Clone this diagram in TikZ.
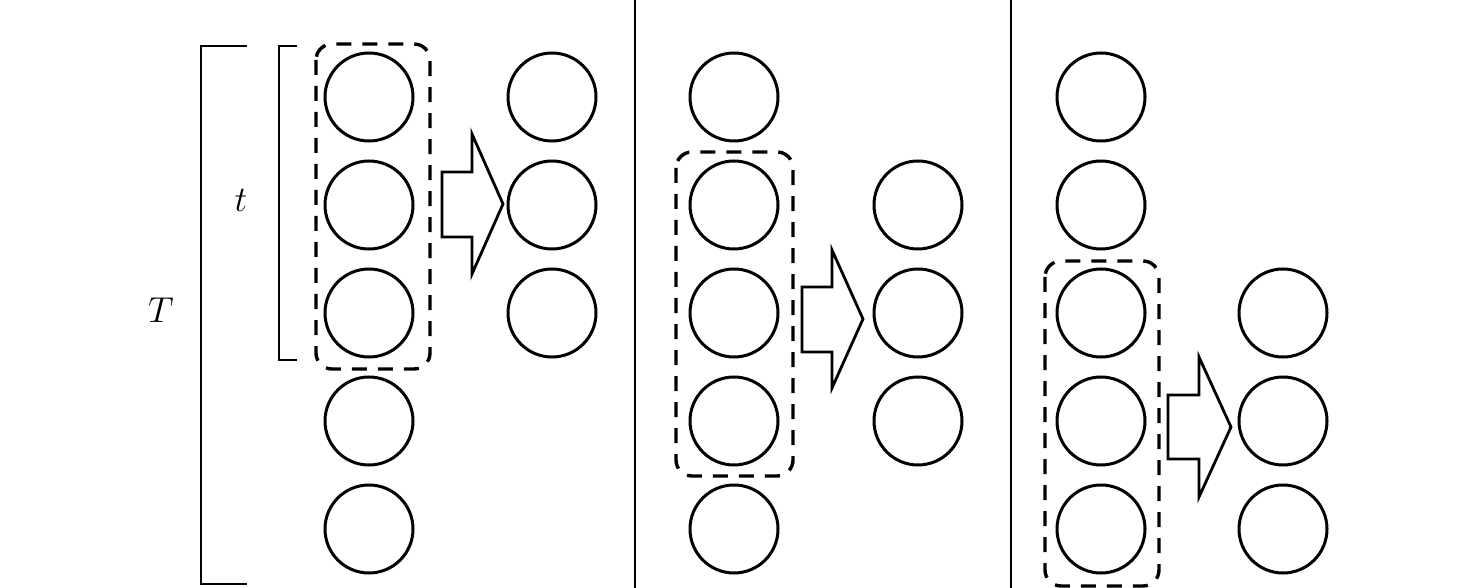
\documentclass[tikz,border=0pt]{standalone}
\usepackage{fix-cm}
\begin{document}
\begin{tikzpicture}[x=1pt,y=-1pt,
  cell/.style={circle,draw,line width=3pt,minimum size=88pt,inner sep=0pt},
  win/.style={draw,line width=3.4pt,dash pattern=on 15pt off 11pt,rounded corners=16pt},
  bigarrow/.style={draw,line width=2.8pt,line join=miter},
  brack/.style={draw,line width=1.8pt},
  lbl/.style={font=\fontsize{36}{42}\selectfont,inner sep=0pt}]
\useasboundingbox (0,0) rectangle (1476,588);
% separators
\draw[line width=2pt] (635,0) -- (635,588);
\draw[line width=2pt] (1011,0) -- (1011,588);
% brackets
\draw[brack] (247,46) -- (201,46) -- (201,584) -- (247,584);
\draw[brack] (297,46) -- (279,46) -- (279,360) -- (297,360);
\node[lbl] (Tl) at (161,310) {$T$};
\node[lbl] (tl) at (241,200) {$t$};
% panel 1
\foreach \i/\y in {1/97,2/205,3/313,4/421,5/529} \node[cell] (a\i) at (369,\y) {};
\foreach \i/\y in {1/97,2/205,3/313} \node[cell] (ao\i) at (552,\y) {};
\draw[win] (316,44) rectangle (430,369);
\draw[bigarrow] (442,172) -- (472,172) -- (472,134) -- (503,204) -- (472,274) -- (472,237) -- (442,237) -- cycle;
% panel 2
\foreach \i/\y in {1/97,2/205,3/313,4/421,5/529} \node[cell] (b\i) at (734,\y) {};
\foreach \i/\y in {1/205,2/313,3/421} \node[cell] (bo\i) at (918,\y) {};
\draw[win] (676,152) rectangle (793,476);
\draw[bigarrow] (802,287) -- (832,287) -- (832,250) -- (863,319) -- (832,388) -- (832,352) -- (802,352) -- cycle;
% panel 3
\foreach \i/\y in {1/97,2/205,3/313,4/421,5/529} \node[cell] (c\i) at (1101,\y) {};
\foreach \i/\y in {1/313,2/421,3/529} \node[cell] (co\i) at (1283,\y) {};
\draw[win] (1045,261) rectangle (1159,586);
\draw[bigarrow] (1168,395) -- (1199,395) -- (1199,357) -- (1231,427) -- (1199,497) -- (1199,459) -- (1168,459) -- cycle;
\end{tikzpicture}
\end{document}
